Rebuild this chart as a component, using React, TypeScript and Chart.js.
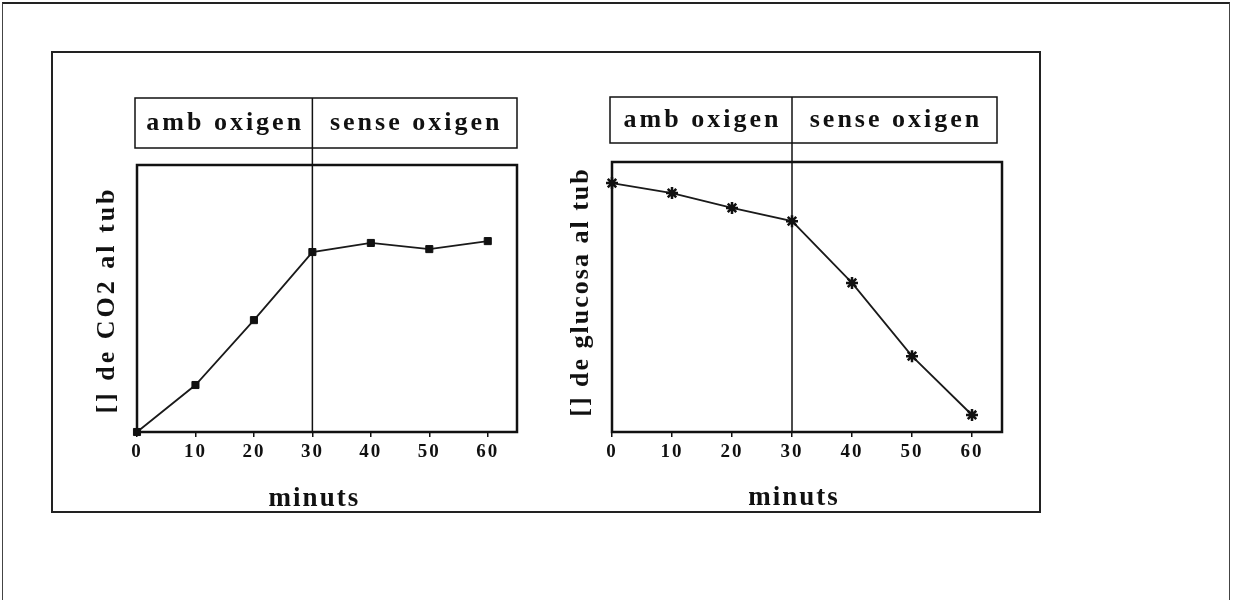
import React, { useEffect, useRef } from 'react';
import { Chart, registerables } from 'chart.js';

Chart.register(...registerables);

// ---- data ----
const minutes = [0, 10, 20, 30, 40, 50, 60];
const co2Values = [0, 17.6, 41.9, 67.4, 70.8, 68.5, 71.5];
const glucoseValues = [92.2, 88.5, 83.0, 78.1, 55.2, 28.1, 6.3];
const phaseLabels = ['amb oxigen', 'sense oxigen'];
const phaseBoundary = 30;
const xAxisTitle = 'minuts';
const co2AxisTitle = '[] de CO2 al tub';
const glucoseAxisTitle = '[] de glucosa al tub';

const FONT = '"Liberation Serif", "Times New Roman", serif';
const INK = '#111';

const framePlugin = {
  id: 'frame',
  beforeDraw(chart: any) {
    chart.ctx.letterSpacing = '2px';
  },
  afterDraw(chart: any, _args: any, opts: any) {
    const { ctx, chartArea: a } = chart;
    const x = chart.scales.x;
    const xb = x.getPixelForValue(phaseBoundary);
    ctx.save();
    ctx.strokeStyle = INK;
    ctx.lineWidth = 2.5;
    ctx.strokeRect(a.left, a.top, a.right - a.left, a.bottom - a.top);
    // header box
    ctx.lineWidth = 1.5;
    ctx.strokeRect(opts.hLeft, opts.hTop, opts.hRight - opts.hLeft, opts.hBottom - opts.hTop);
    ctx.beginPath();
    ctx.moveTo(xb, opts.hTop);
    ctx.lineTo(xb, a.bottom);
    ctx.stroke();
    ctx.fillStyle = INK;
    ctx.font = `bold 26px ${FONT}`;
    ctx.letterSpacing = '3px';
    ctx.textAlign = 'center';
    ctx.textBaseline = 'middle';
    const hy = (opts.hTop + opts.hBottom) / 2;
    ctx.fillText(phaseLabels[0], (opts.hLeft + xb) / 2 + 1.5, hy);
    ctx.fillText(phaseLabels[1], (xb + opts.hRight) / 2 + 1.5, hy);
    // x title
    ctx.font = `bold 27px ${FONT}`;
    ctx.letterSpacing = '2px';
    ctx.fillText(xAxisTitle, xb + opts.xTitleDx, opts.xTitleY);
    // y title
    ctx.font = `bold 26px ${FONT}`;
    ctx.letterSpacing = opts.ySpacing;
    ctx.translate(opts.yTitleX, opts.yTitleY);
    ctx.rotate(-Math.PI / 2);
    ctx.fillText(opts.yTitle, 0, 0);
    ctx.restore();
  },
};

function makeConfig(values: number[], pointStyle: string, padding: any, frame: any) {
  return {
    type: 'line' as const,
    data: {
      datasets: [
        {
          data: minutes.map((m, i) => ({ x: m, y: values[i] })),
          borderColor: '#1a1a1a',
          backgroundColor: INK,
          borderWidth: 1.8,
          pointStyle,
          pointRadius: pointStyle === 'star' ? 6 : 5,
          pointBorderWidth: pointStyle === 'star' ? 2.5 : 1,
          pointBorderColor: INK,
          pointBackgroundColor: INK,
          clip: false,
          tension: 0,
        },
      ],
    },
    options: {
      animation: false,
      responsive: false,
      maintainAspectRatio: false,
      layout: { padding },
      plugins: {
        legend: { display: false },
        tooltip: { enabled: false },
        frame,
      },
      scales: {
        x: {
          type: 'linear',
          min: 0,
          max: 65,
          ticks: {
            stepSize: 10,
            includeBounds: false,
            color: INK,
            padding: 6,
            font: { family: FONT, weight: 'bold', size: 19, lineHeight: 1 },
          },
          grid: {
            display: true,
            drawOnChartArea: false,
            drawTicks: true,
            tickLength: 5,
            color: INK,
            lineWidth: 1.5,
          },
          border: { display: false },
          title: { display: false, text: xAxisTitle },
          afterFit(s: any) {
            s.height = 90;
          },
        },
        y: {
          display: false,
          min: 0,
          max: 100,
        },
      },
    },
    plugins: [framePlugin],
  };
}

function ChartCanvas({ config, style, width, height }: any) {
  const ref = useRef<HTMLCanvasElement>(null);
  useEffect(() => {
    const chart = new Chart(ref.current as HTMLCanvasElement, config);
    return () => chart.destroy();
  }, []);
  return <canvas ref={ref} width={width} height={height} style={{ position: 'absolute', ...style }} />;
}

export default function App() {
  // left canvas at page (52,52), size 500x470 ; right canvas at (560,52), size 480x470
  const leftConfig = makeConfig(
    co2Values,
    'rect',
    { left: 85, right: 35, top: 113, bottom: 0 },
    {
      hLeft: 83, hRight: 465, hTop: 46, hBottom: 96,
      yTitleX: 55, yTitleY: 248, yTitle: co2AxisTitle, ySpacing: '3px',
      xTitleDx: 2, xTitleY: 447,
    }
  );
  const rightConfig = makeConfig(
    glucoseValues,
    'star',
    { left: 52, right: 38, top: 110, bottom: 0 },
    {
      hLeft: 50, hRight: 437, hTop: 45, hBottom: 91,
      yTitleX: 21, yTitleY: 240, yTitle: glucoseAxisTitle, ySpacing: '2px',
      xTitleDx: 2, xTitleY: 446,
    }
  );
  return (
    <div
      style={{
        position: 'absolute',
        left: 0,
        top: 0,
        width: 1234,
        height: 600,
        background: '#fff',
        overflow: 'hidden',
      }}
    >
      <div
        style={{
          position: 'absolute',
          left: 2,
          top: 2,
          width: 1226,
          height: 640,
          borderTop: '2px solid #222',
          borderLeft: '1px solid #444',
          borderRight: '1px solid #444',
        }}
      />
      <div
        style={{
          position: 'absolute',
          left: 51,
          top: 51,
          width: 986,
          height: 458,
          border: '2px solid #222',
        }}
      />
      <ChartCanvas config={leftConfig} width={500} height={470} style={{ left: 52, top: 52 }} />
      <ChartCanvas config={rightConfig} width={480} height={470} style={{ left: 560, top: 52 }} />
    </div>
  );
}
